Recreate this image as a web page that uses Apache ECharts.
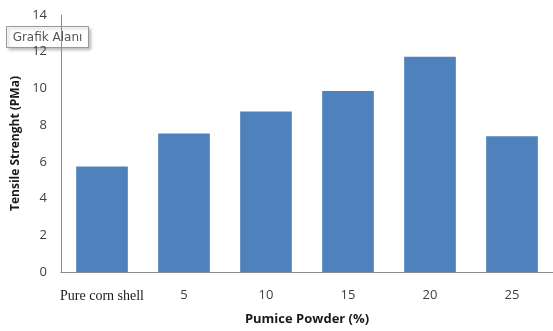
<!DOCTYPE html>
<html>
<head>
<meta charset="utf-8">
<script src="https://cdn.jsdelivr.net/npm/echarts@6/dist/echarts.min.js"></script>
<style>html,body{margin:0;padding:0;background:#fff}#c{width:553px;height:331px}</style>
</head>
<body>
<div id="c"></div>
<script>
const categories = ['Pure corn shell', '5', '10', '15', '20', '25'];
const tensileStrength = [5.75, 7.55, 8.74, 9.86, 11.73, 7.4];
const yTicks = [0, 2, 4, 6, 8, 10, 12, 14];

const chart = echarts.init(document.getElementById('c'));
chart.setOption({
  animation: false,
  grid: { left: 61, right: 0, top: 15, bottom: 57 },
  xAxis: {
    type: 'category',
    data: categories,
    name: 'Pumice Powder (%)',
    nameLocation: 'middle',
    nameGap: 41,
    nameTextStyle: { fontFamily: 'Open Sans', fontWeight: 'bold', fontSize: 13, color: '#1a1a1a' },
    axisLine: { lineStyle: { color: '#8c8c8c', width: 1 } },
    axisTick: { show: false },
    axisLabel: {
      interval: 0,
      margin: 17,
      fontFamily: 'Open Sans',
      fontSize: 13,
      color: '#404040',
      formatter: function (v, i) { return i === 0 ? '{s|' + v + '}' : v; },
      rich: { s: { fontFamily: 'Liberation Serif', fontSize: 14, color: '#1a1a1a' } }
    }
  },
  yAxis: {
    type: 'value',
    min: yTicks[0],
    max: yTicks[yTicks.length - 1],
    interval: 2,
    name: 'Tensile Strenght (PMa)',
    nameLocation: 'middle',
    nameGap: 37,
    nameTextStyle: { fontFamily: 'Open Sans', fontWeight: 'bold', fontSize: 12, color: '#1a1a1a' },
    axisLine: { show: true, lineStyle: { color: '#8c8c8c', width: 1 } },
    axisTick: { show: false },
    splitLine: { show: false },
    axisLabel: { margin: 14, fontFamily: 'Open Sans', fontSize: 13, color: '#404040' }
  },
  series: [{
    type: 'bar',
    data: tensileStrength,
    barWidth: '63%',
    itemStyle: { color: '#4F81BD' }
  }],
  graphic: [{
    type: 'group',
    left: 6,
    top: 26,
    children: [
      {
        type: 'rect',
        shape: { x: 0, y: 0, width: 82, height: 21 },
        style: { fill: '#fff', stroke: '#9a9a9a', lineWidth: 1, shadowBlur: 3, shadowOffsetX: 2, shadowOffsetY: 2, shadowColor: 'rgba(0,0,0,0.25)' }
      },
      {
        type: 'text',
        x: 41, y: 11,
        style: { text: 'Grafik Alanı', fontFamily: 'DejaVu Sans', fontSize: 12, fill: '#555', align: 'center', verticalAlign: 'middle' }
      }
    ]
  }]
});
</script>
</body>
</html>
